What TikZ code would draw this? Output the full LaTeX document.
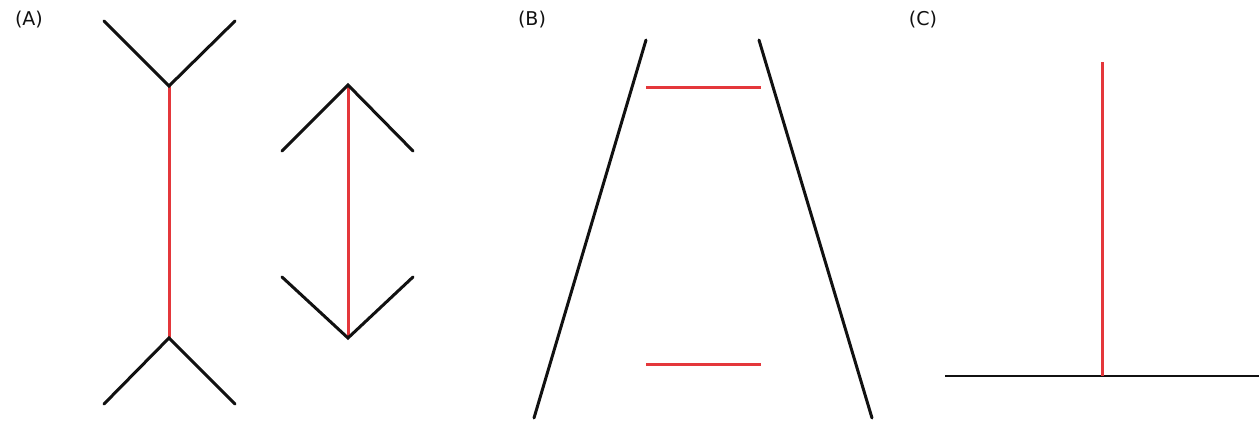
\documentclass[tikz,border=0pt]{standalone}
\usepackage{fontspec}
\setsansfont{DejaVu Sans}
\usepackage{tikz}
\usetikzlibrary{positioning}
\definecolor{rojoLinea}{HTML}{E4373B}
\definecolor{negroLinea}{HTML}{111111}

\begin{document}
\begin{tikzpicture}[x=1pt, y=-1pt, font=\sffamily\fontsize{19}{21}\selectfont,
        fin/.style={draw=negroLinea, line width=3pt, line cap=round},
        shaft/.style={draw=rojoLinea, line width=3pt},
        lbl/.style={inner sep=0pt, text=negroLinea}]
    \useasboundingbox (0,0) rectangle (1259,423);
    % labels
    \node[lbl] (la) at (29,20)  {(A)};
    \node[lbl] (lb) at (532,20) {(B)};
    \node[lbl] (lc) at (923,20) {(C)};
    % (A) left: fins pointing outward
    \coordinate (a1t) at (169,86);   \coordinate (a1b) at (169,338);
    \coordinate (a1tl) at (104,21);  \coordinate (a1tr) at (235,21);
    \coordinate (a1bl) at (104,404); \coordinate (a1br) at (235,404);
    \draw[shaft] (a1t) -- (a1b);
    \draw[fin] (a1tl) -- (a1t) -- (a1tr);
    \draw[fin] (a1bl) -- (a1b) -- (a1br);
    % (A) right: fins pointing inward
    \coordinate (a2t) at (348,85);   \coordinate (a2b) at (348,338);
    \coordinate (a2tl) at (282,151); \coordinate (a2tr) at (413,151);
    \coordinate (a2bl) at (282,277); \coordinate (a2br) at (413,277);
    \draw[shaft] (a2t) -- (a2b);
    \draw[fin] (a2tl) -- (a2t) -- (a2tr);
    \draw[fin] (a2bl) -- (a2b) -- (a2br);
    % (B) rails and bars
    \coordinate (bl1) at (646,40); \coordinate (bl2) at (534,418);
    \coordinate (br1) at (759,40); \coordinate (br2) at (872,418);
    \draw[fin] (bl1) -- (bl2);
    \draw[fin] (br1) -- (br2);
    \foreach \y/\n in {87/up, 364/dn} {
        \coordinate (b\n1) at (646,\y);
        \coordinate (b\n2) at (761,\y);
        \draw[shaft] (b\n1) -- (b\n2);
    }
    % (C) vertical and horizontal
    \coordinate (ct) at (1102,62);  \coordinate (cb) at (1102,376);
    \coordinate (cl) at (945,376);  \coordinate (cr) at (1259,376);
    \draw[fin, line cap=butt, line width=2.6pt] (cl) -- (cr);
    \draw[shaft] (ct) -- (cb);
\end{tikzpicture}
\end{document}
